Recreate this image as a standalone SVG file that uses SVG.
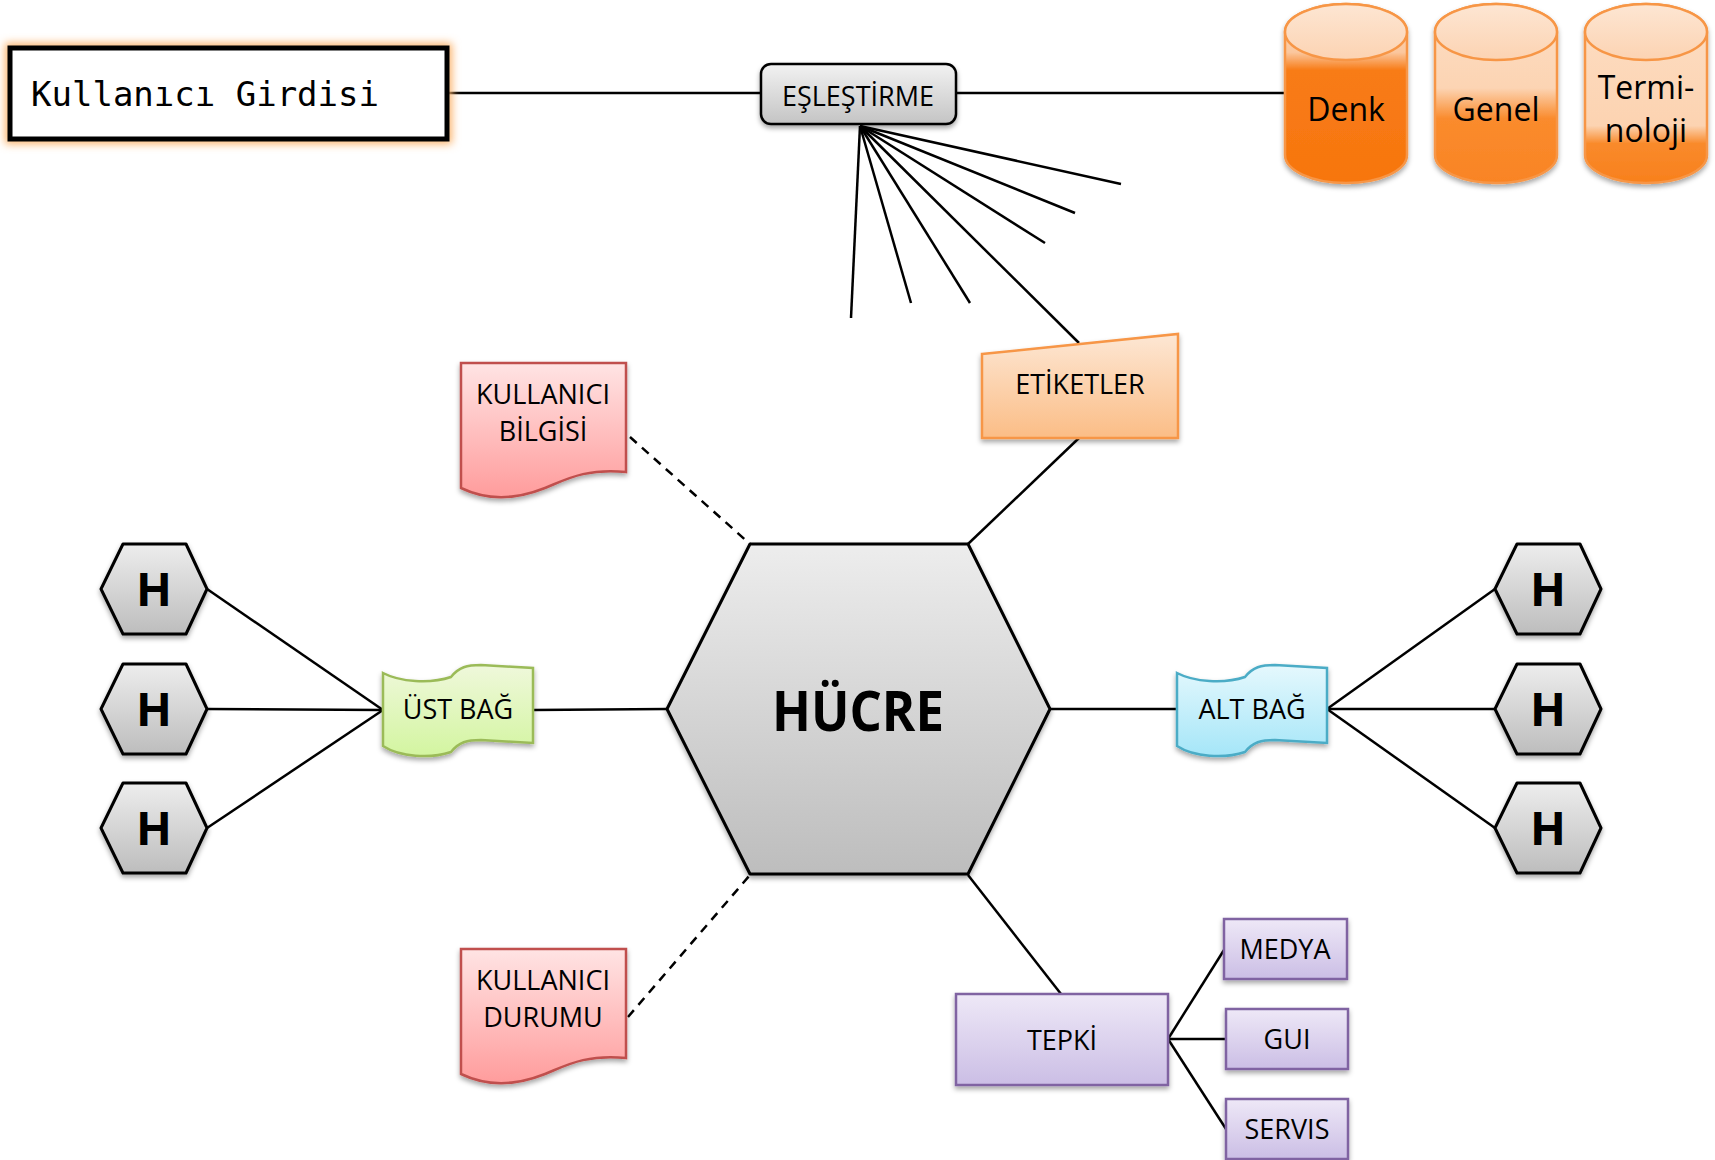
<svg xmlns="http://www.w3.org/2000/svg" width="1715" height="1160" viewBox="0 0 1715 1160">
<defs>
<style>
.t{font-family:"Open Sans","Noto Sans","DejaVu Sans",sans-serif;fill:#000;text-anchor:middle}
.m{font-size:27px}
.hb{font-weight:bold;font-size:47px}
.ln{stroke:#000;stroke-width:2.5;fill:none}
.dash{stroke:#000;stroke-width:2.5;fill:none;stroke-dasharray:9 7}
.hex{fill:url(#gGray);stroke:#000;stroke-width:3;stroke-linejoin:round}
.cyl{stroke:#f79646;stroke-width:2.5}
</style>
<filter id="sh" x="-15%" y="-15%" width="130%" height="140%"><feDropShadow dx="0" dy="3" stdDeviation="2.5" flood-color="#000" flood-opacity="0.35"/></filter>
<filter id="glow" x="-10%" y="-30%" width="120%" height="160%"><feGaussianBlur stdDeviation="4"/></filter>
<linearGradient id="gGray" x1="0" y1="0" x2="0" y2="1"><stop offset="0" stop-color="#ededed"/><stop offset="1" stop-color="#bdbdbd"/></linearGradient>
<linearGradient id="gBtn" x1="0" y1="0" x2="0" y2="1"><stop offset="0" stop-color="#f2f2f2"/><stop offset="1" stop-color="#c4c4c4"/></linearGradient>
<linearGradient id="gPink" x1="0" y1="0" x2="0" y2="1"><stop offset="0" stop-color="#ffe4e4"/><stop offset="1" stop-color="#ff9c9c"/></linearGradient>
<linearGradient id="gPeach" x1="0" y1="0" x2="0" y2="1"><stop offset="0" stop-color="#fde7d4"/><stop offset="1" stop-color="#fbbd86"/></linearGradient>
<linearGradient id="gGreen" x1="0" y1="0" x2="0" y2="1"><stop offset="0" stop-color="#eff8db"/><stop offset="1" stop-color="#d3f5a0"/></linearGradient>
<linearGradient id="gCyan" x1="0" y1="0" x2="0" y2="1"><stop offset="0" stop-color="#e5f8fd"/><stop offset="1" stop-color="#a5e6f8"/></linearGradient>
<linearGradient id="gLav" x1="0" y1="0" x2="0" y2="1"><stop offset="0" stop-color="#eee8f7"/><stop offset="1" stop-color="#cbbee5"/></linearGradient>
<linearGradient id="gLid" x1="0" y1="0" x2="0" y2="1"><stop offset="0" stop-color="#fde6d3"/><stop offset="1" stop-color="#fcd3b2"/></linearGradient>
<linearGradient id="gC1" x1="0" y1="0" x2="0" y2="1"><stop offset="0" stop-color="#fddcc0"/><stop offset="0.27" stop-color="#fbc79e"/><stop offset="0.37" stop-color="#f87b15"/><stop offset="1" stop-color="#f7760f"/></linearGradient>
<linearGradient id="gC2" x1="0" y1="0" x2="0" y2="1"><stop offset="0" stop-color="#fddec4"/><stop offset="0.47" stop-color="#fcd4b3"/><stop offset="0.64" stop-color="#fa8b2d"/><stop offset="1" stop-color="#f98424"/></linearGradient>
<linearGradient id="gC3" x1="0" y1="0" x2="0" y2="1"><stop offset="0" stop-color="#fddec4"/><stop offset="0.68" stop-color="#fcd3b1"/><stop offset="0.78" stop-color="#f98a2b"/><stop offset="1" stop-color="#f8801d"/></linearGradient>
<polygon id="hx" points="-53,0 -31,-45 32,-45 53,0 32,45 -31,45"/>
<path id="wave" d="M0,0 C17,9 47,11 68,4 C76,-6 84,-8 98,-8 L150,-5 L150,70 L98,67 C84,67 76,69 68,79 C47,86 17,84 0,73 Z"/>
<path id="doc" d="M0,0 H165 V109 C124,105 104,117 84,125 C59,135 29,139 0,125 Z"/>
</defs>
<rect width="1715" height="1160" fill="#fff"/>

<g id="connectors">
<line class="ln" x1="448" y1="93" x2="761" y2="93"/>
<line class="ln" x1="956" y1="93" x2="1285" y2="93"/>
<line class="ln" x1="860" y1="126" x2="851" y2="318"/>
<line class="ln" x1="860" y1="126" x2="911" y2="303"/>
<line class="ln" x1="860" y1="126" x2="970" y2="303"/>
<line class="ln" x1="860" y1="126" x2="1079" y2="343"/>
<line class="ln" x1="860" y1="126" x2="1045" y2="243"/>
<line class="ln" x1="860" y1="126" x2="1075" y2="213"/>
<line class="ln" x1="860" y1="126" x2="1121" y2="184"/>
<line class="ln" x1="1079" y1="438" x2="968" y2="544"/>
<line class="dash" x1="630" y1="437" x2="750" y2="544"/>
<line class="dash" x1="628" y1="1017" x2="750" y2="875"/>
<line class="ln" x1="207" y1="589" x2="383" y2="710"/>
<line class="ln" x1="207" y1="709" x2="383" y2="710"/>
<line class="ln" x1="207" y1="828" x2="383" y2="710"/>
<line class="ln" x1="533" y1="710" x2="667" y2="709"/>
<line class="ln" x1="1050" y1="709" x2="1177" y2="709"/>
<line class="ln" x1="1327" y1="709" x2="1495" y2="589"/>
<line class="ln" x1="1327" y1="709" x2="1495" y2="709"/>
<line class="ln" x1="1327" y1="709" x2="1495" y2="828"/>
<line class="ln" x1="968" y1="875" x2="1061" y2="994"/>
<line class="ln" x1="1168" y1="1039" x2="1224" y2="950"/>
<line class="ln" x1="1168" y1="1039" x2="1226" y2="1039"/>
<line class="ln" x1="1168" y1="1039" x2="1226" y2="1129"/>
</g>

<g id="kullanici-girdisi">
<rect x="10" y="48" width="437" height="91" fill="none" stroke="#fbb36b" stroke-width="10" filter="url(#glow)"/>
<rect x="10" y="48" width="437" height="91" fill="#fff" stroke="#000" stroke-width="5"/>
<text x="31" y="106" style="font-family:'DejaVu Sans Mono','Liberation Mono',monospace;font-size:34px">Kullanıcı Girdisi</text>
</g>

<g id="eslestirme">
<rect x="761" y="64" width="195" height="60" rx="10" fill="url(#gBtn)" stroke="#000" stroke-width="2.5" filter="url(#sh)"/>
<text class="t m" x="858" y="106">EŞLEŞTİRME</text>
</g>

<g id="denk">
<path class="cyl" d="M1285,32 A61,28 0 0 1 1407,32 V155 A61,28 0 0 1 1285,155 Z" fill="url(#gC1)" filter="url(#sh)"/>
<ellipse class="cyl" cx="1346" cy="32" rx="61" ry="28" fill="url(#gLid)"/>
<text class="t" x="1346" y="121" style="font-size:32px">Denk</text>
</g>
<g id="genel">
<path class="cyl" d="M1435,32 A61,28 0 0 1 1557,32 V155 A61,28 0 0 1 1435,155 Z" fill="url(#gC2)" filter="url(#sh)"/>
<ellipse class="cyl" cx="1496" cy="32" rx="61" ry="28" fill="url(#gLid)"/>
<text class="t" x="1496" y="121" style="font-size:32px">Genel</text>
</g>
<g id="terminoloji">
<path class="cyl" d="M1585,32 A61,28 0 0 1 1707,32 V155 A61,28 0 0 1 1585,155 Z" fill="url(#gC3)" filter="url(#sh)"/>
<ellipse class="cyl" cx="1646" cy="32" rx="61" ry="28" fill="url(#gLid)"/>
<text class="t" x="1646" y="99" style="font-size:32px">Termi-</text>
<text class="t" x="1646" y="142" style="font-size:32px">noloji</text>
</g>

<g id="etiketler">
<polygon points="982,354 1178,334 1178,438 982,438" fill="url(#gPeach)" stroke="#f79646" stroke-width="2.5" filter="url(#sh)"/>
<text class="t m" x="1080" y="394">ETİKETLER</text>
</g>

<g id="kullanici-bilgisi">
<use href="#doc" transform="translate(461,363)" fill="url(#gPink)" stroke="#c0504d" stroke-width="2.5" filter="url(#sh)"/>
<text class="t m" x="543" y="404">KULLANICI</text>
<text class="t m" x="543" y="441">BİLGİSİ</text>
</g>

<g id="kullanici-durumu">
<use href="#doc" transform="translate(461,949)" fill="url(#gPink)" stroke="#c0504d" stroke-width="2.5" filter="url(#sh)"/>
<text class="t m" x="543" y="990">KULLANICI</text>
<text class="t m" x="543" y="1027">DURUMU</text>
</g>

<g id="hucre">
<polygon points="667,709 750,544 968,544 1050,709 968,874 750,874" fill="url(#gGray)" stroke="#000" stroke-width="3" stroke-linejoin="round" filter="url(#sh)"/>
<text class="t" x="858" y="731" style="font-weight:bold;font-size:56px" textLength="172" lengthAdjust="spacingAndGlyphs">HÜCRE</text>
</g>

<g id="ust-bag">
<use href="#wave" transform="translate(383,673)" fill="url(#gGreen)" stroke="#9bbb59" stroke-width="2.5" filter="url(#sh)"/>
<text class="t m" x="458" y="719">ÜST BAĞ</text>
</g>

<g id="alt-bag">
<use href="#wave" transform="translate(1177,673)" fill="url(#gCyan)" stroke="#4bacc6" stroke-width="2.5" filter="url(#sh)"/>
<text class="t m" x="1252" y="719">ALT BAĞ</text>
</g>

<g id="h-left-1"><use href="#hx" class="hex" transform="translate(154,589)" filter="url(#sh)"/><text class="t hb" x="154" y="606">H</text></g>
<g id="h-left-2"><use href="#hx" class="hex" transform="translate(154,709)" filter="url(#sh)"/><text class="t hb" x="154" y="726">H</text></g>
<g id="h-left-3"><use href="#hx" class="hex" transform="translate(154,828)" filter="url(#sh)"/><text class="t hb" x="154" y="845">H</text></g>
<g id="h-right-1"><use href="#hx" class="hex" transform="translate(1548,589)" filter="url(#sh)"/><text class="t hb" x="1548" y="606">H</text></g>
<g id="h-right-2"><use href="#hx" class="hex" transform="translate(1548,709)" filter="url(#sh)"/><text class="t hb" x="1548" y="726">H</text></g>
<g id="h-right-3"><use href="#hx" class="hex" transform="translate(1548,828)" filter="url(#sh)"/><text class="t hb" x="1548" y="845">H</text></g>

<g id="tepki">
<rect x="956" y="994" width="212" height="91" fill="url(#gLav)" stroke="#8064a2" stroke-width="2.5" filter="url(#sh)"/>
<text class="t m" x="1062" y="1050">TEPKİ</text>
</g>
<g id="medya">
<rect x="1224" y="919" width="123" height="60" fill="url(#gLav)" stroke="#8064a2" stroke-width="2.5" filter="url(#sh)"/>
<text class="t m" x="1285" y="959">MEDYA</text>
</g>
<g id="gui">
<rect x="1226" y="1009" width="122" height="60" fill="url(#gLav)" stroke="#8064a2" stroke-width="2.5" filter="url(#sh)"/>
<text class="t m" x="1287" y="1049">GUI</text>
</g>
<g id="servis">
<rect x="1226" y="1099" width="122" height="60" fill="url(#gLav)" stroke="#8064a2" stroke-width="2.5" filter="url(#sh)"/>
<text class="t m" x="1287" y="1139">SERVIS</text>
</g>
</svg>
